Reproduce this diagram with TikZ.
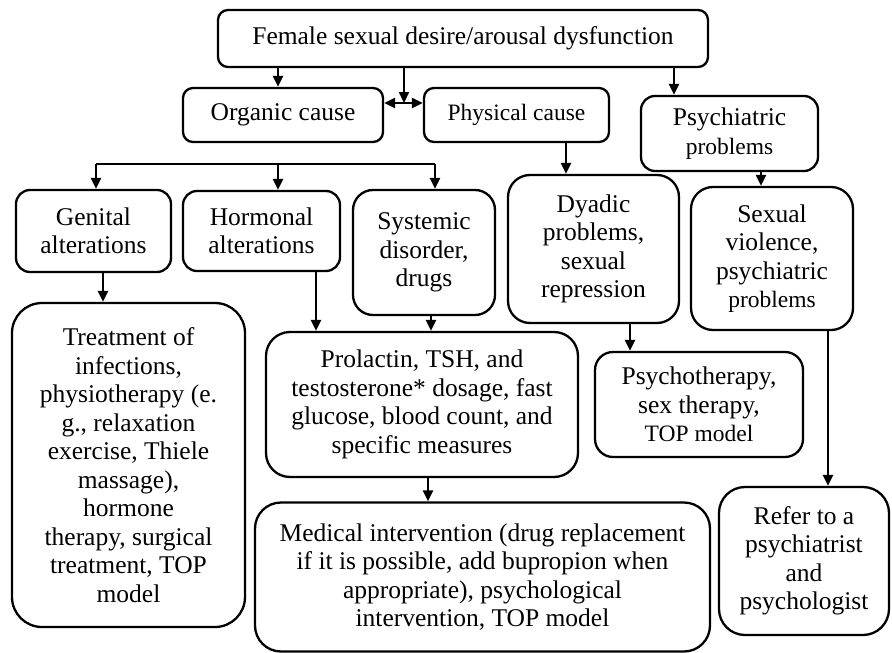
\documentclass[tikz,border=0pt]{standalone}
\usepackage{fontspec}
\setmainfont{Liberation Serif}
\usetikzlibrary{arrows.meta}
\newcommand\smalltxt[1]{{\fontsize{23.5}{28.5}\selectfont #1}}
\begin{document}
\begin{tikzpicture}[x=1pt,y=-1pt,
  box/.style={draw, line width=2.3pt, rounded corners=#1, align=center, inner sep=0pt,
              font=\fontsize{25.5}{28.5}\selectfont},
  box/.default=12pt,
  conn/.style={line width=2.2pt},
  arr/.style={line width=2.2pt, -{Triangle[length=11pt,width=10pt]}},
  darr/.style={line width=2.2pt, {Triangle[length=11pt,width=10pt]}-{Triangle[length=11pt,width=10pt]}}]
\useasboundingbox (0,0) rectangle (892,653);

% nodes
\node[box=10pt, minimum width=490pt, minimum height=57pt] (top) at (463,38.5)
  {Female sexual desire/arousal dysfunction};
\node[box=10pt, minimum width=200pt, minimum height=54pt] (organic) at (283,115) {Organic cause};
\node[box=10pt, minimum width=185pt, minimum height=54pt] (physical) at (516.5,115) {\smalltxt{Physical cause}};
\node[box=14pt, minimum width=177pt, minimum height=75pt] (psych) at (729.5,133.5)
  {Psychiatric\\\smalltxt{problems}};
\node[box=14pt, minimum width=155pt, minimum height=82pt] (genital) at (93.5,231) {Genital\\alterations};
\node[box=14pt, minimum width=157pt, minimum height=80pt] (hormonal) at (261.5,231) {Hormonal\\alterations};
\node[box=20pt, minimum width=142pt, minimum height=125pt] (systemic) at (424,252.5) {Systemic\\disorder,\\drugs};
\node[box=22pt, minimum width=171pt, minimum height=148pt] (dyadic) at (593.5,249)
  {Dyadic\\problems,\\sexual\\repression};
\node[box=22pt, minimum width=162pt, minimum height=143pt] (sexviol) at (772,258.5)
  {Sexual\\violence,\\psychiatric\\\smalltxt{problems}};
\node[box=30pt, minimum width=233pt, minimum height=324pt] (treat) at (128.5,465)
  {Treatment of\\infections,\\physiotherapy (e.\\g., relaxation\\exercise, Thiele\\massage),\\hormone\\therapy, surgical\\treatment, TOP\\model};
\node[box=24pt, minimum width=312pt, minimum height=145pt] (prolactin) at (422,404.5)
  {Prolactin, TSH, and\\testosterone* dosage, fast\\glucose, blood count, and\\specific measures};
\node[box=18pt, minimum width=208pt, minimum height=105pt] (psychother) at (699,404.5)
  {Psychotherapy,\\sex therapy,\\\smalltxt{TOP model}};
\node[box=26pt, minimum width=455pt, minimum height=149pt] (medical) at (482.5,577)
  {Medical intervention (drug replacement\\if it is possible, add bupropion when\\appropriate), psychological\\intervention, TOP model};
\node[box=26pt, minimum width=170pt, minimum height=148pt] (refer) at (804,561)
  {Refer to a\\psychiatrist\\and\\psychologist};

% helper coordinates
\coordinate (xo) at (278,0);
\coordinate (mid) at (404,103);
\coordinate (xp) at (674,0);
\coordinate (xd) at (566,0);
\coordinate (xs) at (761,0);
\coordinate (busL) at (96,164);
\coordinate (busM) at (278,164);
\coordinate (busR) at (435,164);
\coordinate (xg) at (103,0);
\coordinate (xh) at (316,0);
\coordinate (xsy) at (431,0);
\coordinate (xdy) at (630,0);
\coordinate (xsv) at (828,0);
\coordinate (xpr) at (428,0);

% connectors
\draw[arr] (xo |- top.south) -- (xo |- organic.north);
\draw[arr] (mid |- top.south) -- (mid);
\draw[darr] (organic.east |- mid) -- (physical.west |- mid);
\draw[arr] (xp |- top.south) -- (xp |- psych.north);
\draw[arr] (xd |- physical.south) -- (xd |- dyadic.north);
\draw[arr] (xs |- psych.south) -- (xs |- sexviol.north);

\draw[conn] (busL) -- (busR);
\draw[arr] (busL) -- (busL |- genital.north);
\draw[arr] (busM) -- (busM |- hormonal.north);
\draw[arr] (busR) -- (busR |- systemic.north);

\draw[arr] (xg |- genital.south) -- (xg |- treat.north);
\draw[arr] (xh |- hormonal.south) -- (xh |- prolactin.north);
\draw[arr] (xsy |- systemic.south) -- (xsy |- prolactin.north);
\draw[arr] (xdy |- dyadic.south) -- (xdy |- psychother.north);
\draw[arr] (xsv |- sexviol.south) -- (xsv |- refer.north);
\draw[arr] (xpr |- prolactin.south) -- (xpr |- medical.north);
\end{tikzpicture}
\end{document}
